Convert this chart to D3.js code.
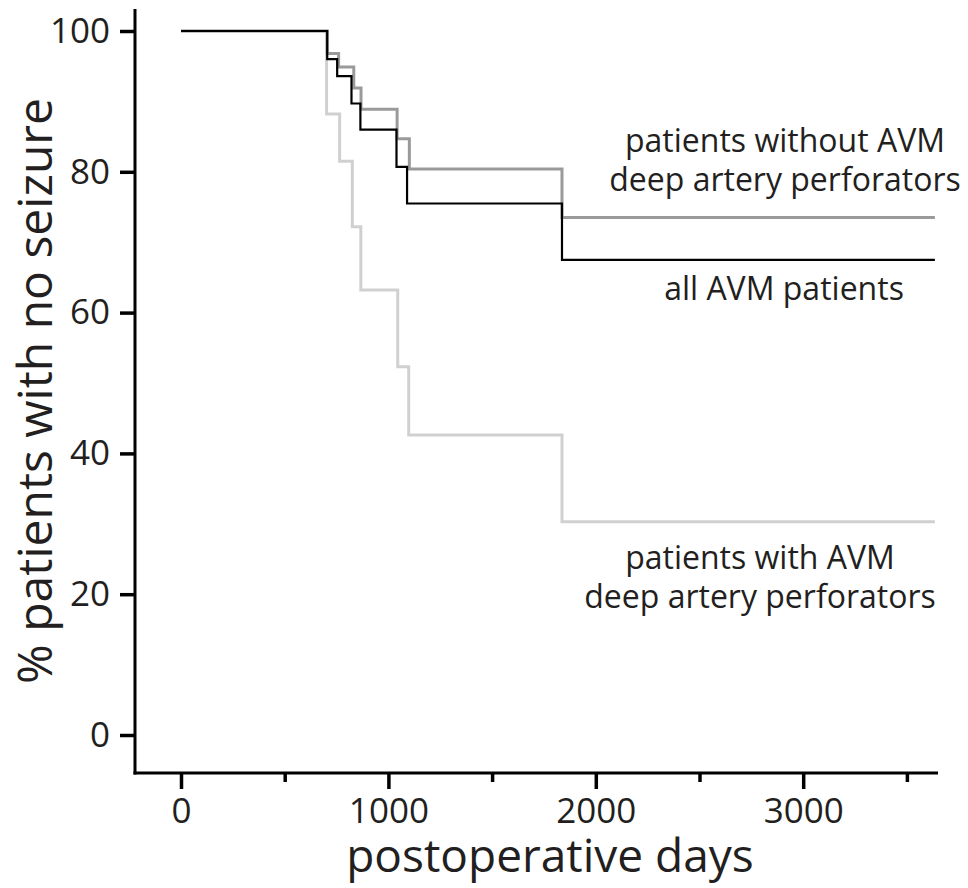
<!DOCTYPE html>
<html>
<head>
<meta charset="utf-8">
<script src="https://cdn.jsdelivr.net/npm/d3@7"></script>
<style>
  html, body { margin: 0; padding: 0; background: #fff; }
  svg { display: block; }
  text { font-family: "Open Sans", "Noto Sans", sans-serif; fill: #231f20; }
</style>
</head>
<body>
<script>
// ---- data ----
const daysAll = [0, 705, 753, 822, 865, 1039, 1090, 1837, 3635];
const pctAll  = [100, 96.0, 93.6, 89.7, 86.0, 80.7, 75.5, 67.5, 67.5];

const daysWithout = [0, 705, 760, 833, 868, 1042, 1101, 1837, 3635];
const pctWithout  = [100, 96.8, 94.9, 91.9, 88.9, 84.7, 80.4, 73.5, 73.5];

const daysWith = [0, 702, 765, 826, 867, 1045, 1098, 1837, 3635];
const pctWith  = [100, 88.2, 81.5, 72.2, 63.2, 52.3, 42.6, 30.3, 30.3];

const xMajorTicks = [0, 1000, 2000, 3000];
const xMinorTicks = [500, 1500, 2500, 3500];
const yTicks = [0, 20, 40, 60, 80, 100];

const labelWithout = ["patients without AVM", "deep artery perforators"];
const labelAll = ["all AVM patients"];
const labelWith = ["patients with AVM", "deep artery perforators"];

// ---- layout ----
const W = 968, H = 888;
const svg = d3.select("body").append("svg").attr("width", W).attr("height", H);
svg.append("rect").attr("width", W).attr("height", H).attr("fill", "#fff");

const x = d3.scaleLinear().domain([0, 3650]).range([181, 938]);
const y = d3.scaleLinear().domain([0, 100]).range([735, 31]);
const axisX = 135, axisY = 773;

// series
const series = [
  {days: daysWith, pct: pctWith, color: "#d0d0d0", width: 3},
  {days: daysWithout, pct: pctWithout, color: "#9a9a9a", width: 3},
  {days: daysAll, pct: pctAll, color: "#000", width: 2.2}
];
const line = d3.line().x(d => x(d[0])).y(d => y(d[1])).curve(d3.curveStepAfter);
series.forEach(s => {
  svg.append("path")
    .datum(s.days.map((d, i) => [d, s.pct[i]]))
    .attr("d", line)
    .attr("fill", "none")
    .attr("stroke", s.color)
    .attr("stroke-width", s.width)
    .attr("stroke-linejoin", "miter")
    .attr("stroke-linecap", "butt");
});

const fmt = d3.format("d");

// y axis
const gy = svg.append("g").attr("transform", `translate(${axisX},0)`)
  .call(d3.axisLeft(y).tickValues(yTicks).tickFormat(fmt).tickSize(15).tickSizeOuter(0).tickPadding(10));
gy.select(".domain").remove();
gy.selectAll(".tick line").attr("stroke", "#000").attr("stroke-width", 3.5);
gy.selectAll(".tick text").style("font-size", "35px").attr("fill", "#231f20")
  .attr("font-family", "Open Sans");

// x axis
const gx = svg.append("g").attr("transform", `translate(0,${axisY})`)
  .call(d3.axisBottom(x).tickValues(xMajorTicks).tickFormat(fmt).tickSize(16).tickSizeOuter(0).tickPadding(9));
gx.select(".domain").remove();
gx.selectAll(".tick line").attr("stroke", "#000").attr("stroke-width", 3.5);
gx.selectAll(".tick text").style("font-size", "35px").attr("fill", "#231f20")
  .attr("font-family", "Open Sans");

const gxm = svg.append("g").attr("transform", `translate(0,${axisY})`)
  .call(d3.axisBottom(x).tickValues(xMinorTicks).tickSize(9).tickSizeOuter(0).tickFormat(""));
gxm.select(".domain").remove();
gxm.selectAll(".tick line").attr("stroke", "#000").attr("stroke-width", 3.5);

// axis lines
svg.append("line").attr("x1", axisX).attr("x2", axisX).attr("y1", 9).attr("y2", axisY + 1.5)
  .attr("stroke", "#000").attr("stroke-width", 3);
svg.append("line").attr("x1", axisX - 1.5).attr("x2", 938).attr("y1", axisY).attr("y2", axisY)
  .attr("stroke", "#000").attr("stroke-width", 3);

// axis titles
svg.append("text")
  .attr("transform", `translate(52,391) rotate(-90)`)
  .attr("text-anchor", "middle")
  .style("font-size", "48px")
  .text("% patients with no seizure");
svg.append("text")
  .attr("x", 550).attr("y", 872)
  .attr("text-anchor", "middle")
  .style("font-size", "46px")
  .text("postoperative days");

// annotations
function annot(lines, cx, baseline) {
  lines.forEach((t, i) => {
    svg.append("text").attr("x", cx).attr("y", baseline + i * 39)
      .attr("text-anchor", "middle").style("font-size", "32px").text(t);
  });
}
annot(labelWithout, 785, 152);
annot(labelAll, 784, 300);
annot(labelWith, 760, 569);
</script>
</body>
</html>
